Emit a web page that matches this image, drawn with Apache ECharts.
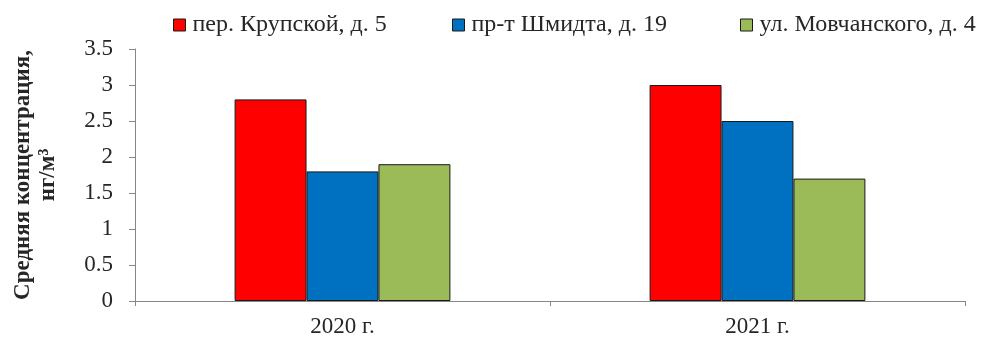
<!DOCTYPE html>
<html>
<head>
<meta charset="utf-8">
<script src="https://cdn.jsdelivr.net/npm/echarts@6/dist/echarts.min.js"></script>
<style>
  html, body { margin: 0; padding: 0; background: #fff; }
  #chart { width: 1005px; height: 347px; }
</style>
</head>
<body>
<div id="chart"></div>
<script>
// Data
const years = ['2020 г.', '2021 г.'];
const seriesNames = ['пер. Крупской, д. 5', 'пр-т Шмидта, д. 19', 'ул. Мовчанского, д. 4'];
const krupskoy = [2.8, 3.0];
const shmidta = [1.8, 2.5];
const movchanskogo = [1.9, 1.7];
const colors = ['#ff0000', '#0070c0', '#9bbb59'];

const font = '"Liberation Serif", "DejaVu Serif", serif';
const txt = '#262626';

const chart = echarts.init(document.getElementById('chart'), null, { renderer: 'canvas' });

const mkBar = (name, data, color) => ({
  name,
  type: 'bar',
  data,
  barGap: '0%',
  barCategoryGap: '48%',
  itemStyle: { color, borderColor: '#1a1a1a', borderWidth: 1 }
});

// one legend per entry so each marker sits where the reference has it
const legendLefts = [168, 447, 735];
const mkLegend = (name, left) => ({
  top: 8,
  left,
  itemWidth: 12,
  itemHeight: 12,
  icon: 'rect',
  itemStyle: { borderColor: '#1a1a1a', borderWidth: 1 },
  textStyle: { fontFamily: font, fontSize: 24, color: txt, padding: [0, 0, 0, 2] },
  data: [name]
});

chart.setOption({
  animation: false,
  color: colors,
  legend: seriesNames.map((n, i) => mkLegend(n, legendLefts[i])),
  grid: { left: 135, right: 40, top: 49, bottom: 46, outerBoundsMode: 'none' },
  xAxis: {
    type: 'category',
    data: years,
    axisLine: { lineStyle: { color: '#868686', width: 1 } },
    axisTick: { show: true, length: 5, lineStyle: { color: '#868686' } },
    axisLabel: { fontFamily: font, fontSize: 23, color: txt, margin: 14 },
    splitLine: { show: false }
  },
  yAxis: {
    type: 'value',
    min: 0,
    max: 3.5,
    interval: 0.5,
    name: 'Средняя концентрация,\nнг/м³',
    nameLocation: 'middle',
    nameRotate: 90,
    nameGap: 74,
    nameTextStyle: { fontFamily: font, fontSize: 23, fontWeight: 'bold', color: txt, lineHeight: 25, align: 'center' },
    axisLine: { show: true, lineStyle: { color: '#868686', width: 1 } },
    axisTick: { show: true, length: 6, lineStyle: { color: '#868686' } },
    axisLabel: { fontFamily: font, fontSize: 23, color: txt, margin: 22 },
    splitLine: { show: false }
  },
  series: [
    mkBar(seriesNames[0], krupskoy, colors[0]),
    mkBar(seriesNames[1], shmidta, colors[1]),
    mkBar(seriesNames[2], movchanskogo, colors[2])
  ]
});
</script>
</body>
</html>
